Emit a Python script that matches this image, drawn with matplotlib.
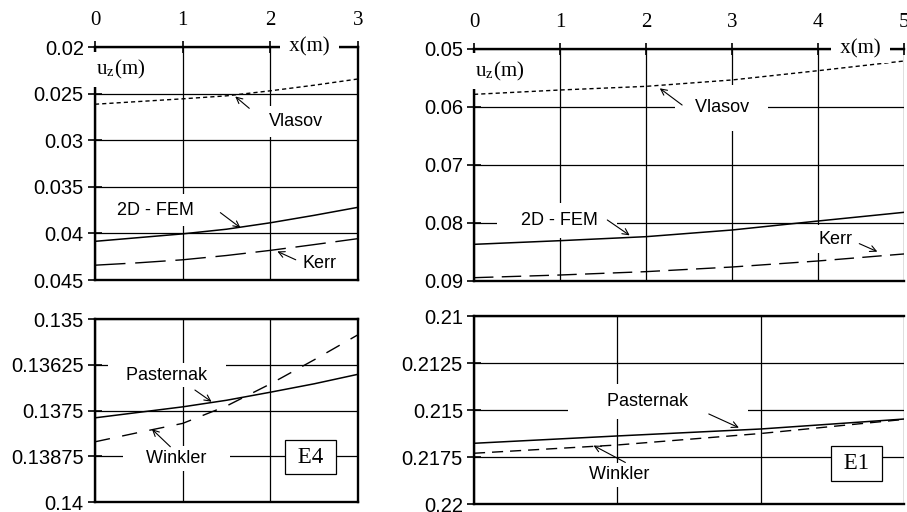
"""
Settlement profiles u_z(x) for cases E4 and E1 (broken y axes).
Saves out.png.
"""
import matplotlib
matplotlib.use("Agg")  # headless-safe
import matplotlib.pyplot as plt

plt.rcParams["font.family"] = ["Liberation Sans", "DejaVu Sans"]
plt.rcParams["mathtext.fontset"] = "stix"

SANS = "Liberation Sans"
SERIF = "Liberation Serif"

# ---- case E4 (left) ----
x_e4 = [0, 0.5, 1, 1.5, 2, 2.5, 3]
vlasov_e4 = [0.02614, 0.02585, 0.02556, 0.02524, 0.02470, 0.02410, 0.02343]
fem_e4 = [0.04085, 0.04045, 0.04005, 0.03955, 0.03886, 0.03806, 0.03720]
kerr_e4 = [0.04341, 0.04315, 0.04283, 0.04237, 0.04182, 0.04120, 0.04056]
pasternak_e4 = [0.13770, 0.13755, 0.13740, 0.13722, 0.13700, 0.13677, 0.13651]
winkler_e4 = [0.138355, 0.138099, 0.137852, 0.137377, 0.136774, 0.136115, 0.135430]

yt_e4_up = [0.02, 0.025, 0.03, 0.035, 0.04, 0.045]
yl_e4_up = ["0.02", "0.025", "0.03", "0.035", "0.04", "0.045"]
yt_e4_lo = [0.135, 0.13625, 0.1375, 0.13875, 0.14]
yl_e4_lo = ["0.135", "0.13625", "0.1375", "0.13875", "0.14"]
xt_e4 = [0, 1, 2, 3]

# ---- case E1 (right) ----
x_e1 = [0, 1, 2, 3, 4, 5]
vlasov_e1 = [0.05782, 0.05707, 0.05644, 0.05534, 0.05374, 0.05207]
fem_e1 = [0.08368, 0.08305, 0.08236, 0.08121, 0.07966, 0.07816]
kerr_e1 = [0.08943, 0.08897, 0.08839, 0.08759, 0.08655, 0.08534]
x_e1_lo = [0, 1.667, 3.333, 5]
pasternak_e1 = [0.21677, 0.21638, 0.21601, 0.21548]
winkler_e1 = [0.21730, 0.21686, 0.21625, 0.21550]

yt_e1_up = [0.05, 0.06, 0.07, 0.08, 0.09]
yl_e1_up = ["0.05", "0.06", "0.07", "0.08", "0.09"]
yt_e1_lo = [0.21, 0.2125, 0.215, 0.2175, 0.22]
yl_e1_lo = ["0.21", "0.2125", "0.215", "0.2175", "0.22"]
xt_e1 = [0, 1, 2, 3, 4, 5]
xt_e1_lo = [0, 5 / 3, 10 / 3, 5]


def frame(ax, xlim, xticks, yticks, ylabels, top_labels):
    ax.set_xlim(*xlim)
    ax.set_ylim(yticks[-1], yticks[0])  # inverted: settlement downwards
    ax.set_yticks(yticks)
    ax.set_yticklabels(ylabels, fontsize=14.5, fontfamily=SANS)
    ax.set_xticks(xticks)
    ax.tick_params(axis="y", direction="inout", length=10, width=1.2, pad=3)
    if top_labels:
        ax.xaxis.set_ticks_position("top")
        ax.set_xticklabels([f"{t:g}" for t in xticks], fontsize=15,
                           fontfamily=SERIF)
        ax.tick_params(axis="x", direction="inout", length=9, width=1.2,
                       pad=8)
    else:
        ax.tick_params(axis="x", length=0, labelbottom=False, labeltop=False)
    ax.grid(True, color="black", lw=0.9)
    for s in ax.spines.values():
        s.set_linewidth(1.7)


def tag(ax, x, y, s, pad=0.25, sp=(0, 0)):
    # leading/trailing blanks widen the white mask over the grid
    txt = " " * sp[0] + s + " " * sp[1]
    ax.text(x, y, txt, ha="center", va="center", fontsize=13, zorder=4,
            bbox=dict(boxstyle=f"square,pad={pad}", fc="white", ec="none"))


def arrow(ax, tail, tip):
    ax.annotate("", xy=tip, xytext=tail, zorder=6,
                arrowprops=dict(arrowstyle="->", lw=0.8, color="black",
                                shrinkA=0, shrinkB=0, mutation_scale=11))


def axis_names(ax, xm, ytop, uz_y):
    ax.text(xm, ytop, " x(m) ", ha="center", va="center", fontsize=15,
            fontfamily=SERIF, zorder=5, clip_on=False,
            bbox=dict(boxstyle="square,pad=0.2", fc="white", ec="none"))
    ax.text(0.01, uz_y, r"u$_\mathregular{z}$(m)", ha="left", va="center",
            fontsize=15, fontfamily=SERIF, zorder=5, clip_on=False,
            bbox=dict(boxstyle="square,pad=0.3", fc="white", ec="none"))


def case_box(ax, x, y, s):
    ax.text(x, y, s, ha="center", va="center", fontsize=16.5,
            fontfamily=SERIF, zorder=5,
            bbox=dict(boxstyle="square,pad=0.3", fc="white", ec="black",
                      lw=0.9))


fig = plt.figure(figsize=(9.07, 5.12), dpi=100)

# left column
ax1 = fig.add_axes([0.1047, 0.4531, 0.2900, 0.4551])
ax2 = fig.add_axes([0.1047, 0.0195, 0.2900, 0.3574])
# right column (right edge runs off the figure)
ax3 = fig.add_axes([0.5226, 0.4512, 0.4741, 0.4531])
ax4 = fig.add_axes([0.5226, 0.0156, 0.4741, 0.3672])

frame(ax1, (0, 3), xt_e4, yt_e4_up, yl_e4_up, True)
frame(ax2, (0, 3), xt_e4, yt_e4_lo, yl_e4_lo, False)
frame(ax3, (0, 5), xt_e1, yt_e1_up, yl_e1_up, True)
frame(ax4, (0, 5), xt_e1_lo, yt_e1_lo, yl_e1_lo, False)
for ax in (ax3, ax4):
    ax.spines["right"].set_visible(False)

# E4 upper
ax1.plot(x_e4, vlasov_e4, color="black", lw=1.0, dashes=(3, 2.2), zorder=5)
ax1.plot(x_e4, fem_e4, color="black", lw=1.1, zorder=5)
ax1.plot(x_e4, kerr_e4, color="black", lw=1.0, dashes=(22, 7), zorder=5)
axis_names(ax1, 2.45, 0.02, 0.0224)
tag(ax1, 2.29, 0.0280, "Vlasov", pad=0.4)
arrow(ax1, (1.76, 0.02658), (1.60, 0.02531))
tag(ax1, 0.69, 0.0375, "2D - FEM", pad=0.4)
arrow(ax1, (1.43, 0.03777), (1.66, 0.0394))
tag(ax1, 2.56, 0.0432, "Kerr", pad=0.3)
arrow(ax1, (2.29, 0.04283), (2.08, 0.04193))

# E4 lower
ax2.plot(x_e4, pasternak_e4, color="black", lw=1.1, zorder=5)
ax2.plot(x_e4, winkler_e4, color="black", lw=1.0, dashes=(11, 9), zorder=5)
tag(ax2, 0.82, 0.13653, "Pasternak", pad=0.2, sp=(3, 3))
arrow(ax2, (1.14, 0.13694), (1.33, 0.13726))
tag(ax2, 0.93, 0.13881, "Winkler", pad=0.2, sp=(4, 4))
arrow(ax2, (0.86, 0.13849), (0.65, 0.13801))
case_box(ax2, 2.46, 0.13877, " E4 ")

# E1 upper
ax3.plot(x_e1, vlasov_e1, color="black", lw=1.0, dashes=(3, 2.2), zorder=5)
ax3.plot(x_e1, fem_e1, color="black", lw=1.1, zorder=5)
ax3.plot(x_e1, kerr_e1, color="black", lw=1.0, dashes=(14, 6), zorder=5)
axis_names(ax3, 4.49, 0.05, 0.0538)
tag(ax3, 2.88, 0.0601, "Vlasov", pad=0.8, sp=(1, 1))
arrow(ax3, (2.42, 0.05966), (2.16, 0.05678))
tag(ax3, 0.96, 0.0795, "2D - FEM", pad=0.5, sp=(3, 2))
arrow(ax3, (1.55, 0.07948), (1.81, 0.08213))
tag(ax3, 4.20, 0.0828, "Kerr", pad=0.3)
arrow(ax3, (4.48, 0.08356), (4.69, 0.08494))

# E1 lower
ax4.plot(x_e1_lo, pasternak_e1, color="black", lw=1.1, zorder=5)
ax4.plot(x_e1_lo, winkler_e1, color="black", lw=1.0, dashes=(8, 5), zorder=5)
tag(ax4, 2.14, 0.21456, "Pasternak", pad=0.5, sp=(6, 10))
arrow(ax4, (2.73, 0.21521), (3.08, 0.21594))
tag(ax4, 1.69, 0.21845, "Winkler", pad=0.2, sp=(1, 1))
arrow(ax4, (1.76, 0.21779), (1.39, 0.21689))
case_box(ax4, 4.45, 0.21783, " E1 ")

fig.savefig("out.png", dpi=100)
